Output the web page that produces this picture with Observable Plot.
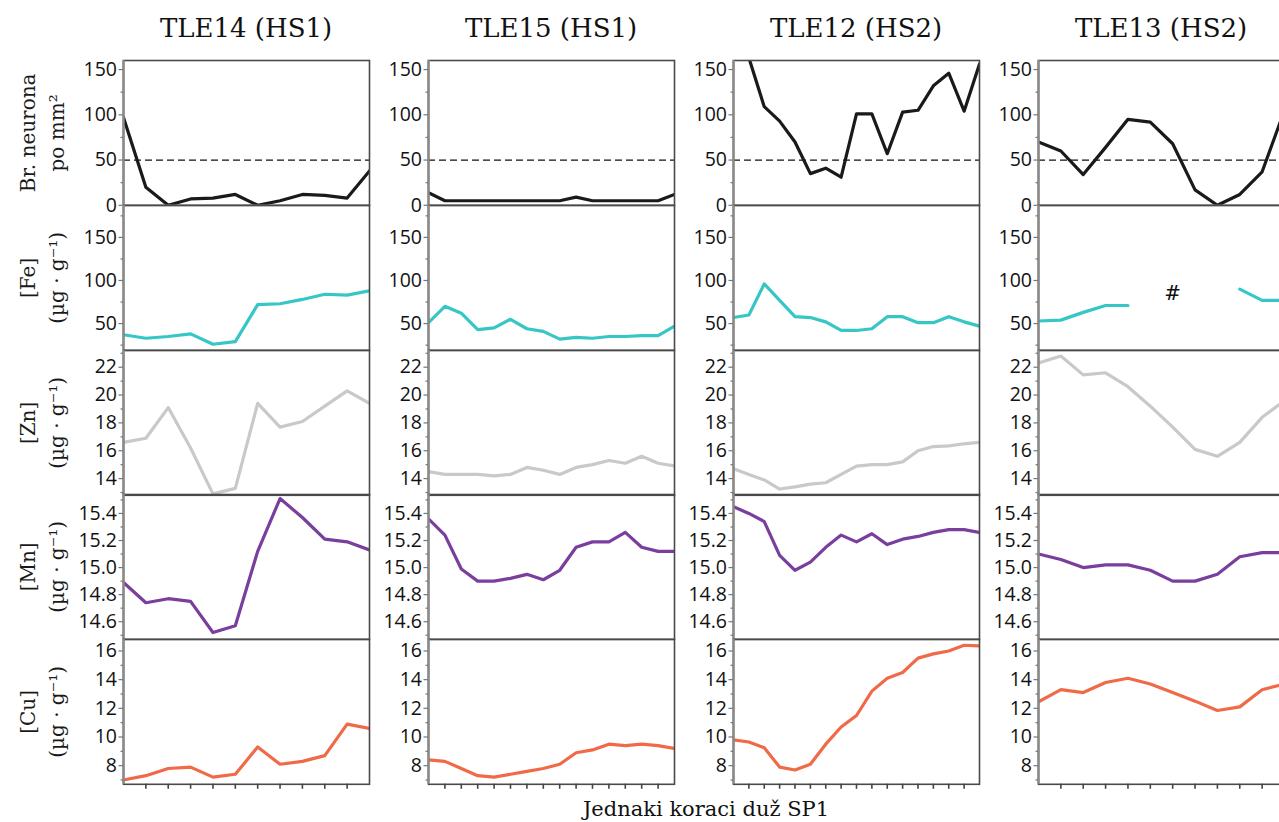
<!DOCTYPE html>
<html>
<head>
<meta charset="utf-8">
<script src="https://cdn.jsdelivr.net/npm/d3@7"></script>
<script src="https://cdn.jsdelivr.net/npm/@observablehq/plot@0.6"></script>
<style>
  html, body { margin: 0; padding: 0; background: #fff; overflow: hidden; }
  #chart { position: relative; width: 1279px; height: 822px; overflow: hidden; }
  #chart svg { position: absolute; }
  .title { position: absolute; top: 15px; font-family: "DejaVu Serif", serif; font-size: 26px; line-height: 26px; color: #111; transform: translateX(-50%); white-space: nowrap; }
  .xlabel { position: absolute; top: 799px; left: 706px; font-family: "DejaVu Serif", serif; font-size: 21px; line-height: 21px; color: #111; transform: translateX(-50%); white-space: nowrap; }
</style>
</head>
<body>
<div id="chart"></div>
<script>
// ---------- data ----------
const columnTitles = ["TLE14 (HS1)", "TLE15 (HS1)", "TLE12 (HS2)", "TLE13 (HS2)"];
const rowLabels = ["Br. neurona\npo mm²", "[Fe]\n(µg · g⁻¹)", "[Zn]\n(µg · g⁻¹)", "[Mn]\n(µg · g⁻¹)", "[Cu]\n(µg · g⁻¹)"];
const xLabel = "Jednaki koraci duž SP1";
const neuronThreshold = [50];

const tle14Neurons = [97, 20, 0, 7, 8, 12, 0, 5, 12, 11, 8, 38];
const tle14Fe = [37, 33, 35, 38, 26, 29, 72, 73, 78, 84, 83, 88];
const tle14Zn = [16.6, 16.9, 19.1, 16.2, 12.9, 13.3, 19.4, 17.7, 18.1, 19.2, 20.3, 19.4];
const tle14Mn = [14.89, 14.74, 14.77, 14.75, 14.52, 14.57, 15.12, 15.51, 15.37, 15.21, 15.19, 15.13];
const tle14Cu = [7.0, 7.3, 7.8, 7.9, 7.2, 7.4, 9.3, 8.1, 8.3, 8.7, 10.9, 10.6];

const tle15Neurons = [14, 5, 5, 5, 5, 5, 5, 5, 5, 9, 5, 5, 5, 5, 5, 12];
const tle15Fe = [51, 70, 62, 43, 45, 55, 44, 41, 32, 34, 33, 35, 35, 36, 36, 47];
const tle15Zn = [14.5, 14.3, 14.3, 14.3, 14.2, 14.3, 14.8, 14.6, 14.3, 14.8, 15.0, 15.3, 15.1, 15.6, 15.1, 14.9];
const tle15Mn = [15.36, 15.24, 14.99, 14.9, 14.9, 14.92, 14.95, 14.91, 14.98, 15.15, 15.19, 15.19, 15.26, 15.15, 15.12, 15.12];
const tle15Cu = [8.4, 8.3, 7.8, 7.3, 7.2, 7.4, 7.6, 7.8, 8.1, 8.9, 9.1, 9.5, 9.4, 9.5, 9.4, 9.2];

const tle12Neurons = [210, 163, 109, 93, 70, 35, 41, 31, 101, 101, 57, 103, 105, 132, 146, 104, 156];
const tle12Fe = [57, 60, 96, 77, 58, 57, 52, 42, 42, 44, 58, 58, 51, 51, 58, 52, 47];
const tle12Zn = [14.7, 14.3, 13.9, 13.25, 13.4, 13.6, 13.7, 14.3, 14.9, 15.0, 15.0, 15.2, 16.0, 16.3, 16.35, 16.5, 16.6];
const tle12Mn = [15.45, 15.40, 15.34, 15.09, 14.98, 15.04, 15.15, 15.24, 15.19, 15.25, 15.17, 15.21, 15.23, 15.26, 15.28, 15.28, 15.26];
const tle12Cu = [9.8, 9.65, 9.25, 7.9, 7.7, 8.1, 9.5, 10.7, 11.5, 13.2, 14.1, 14.5, 15.5, 15.8, 16.0, 16.4, 16.35];

const tle13Neurons = [70, 60, 34, 64, 95, 92, 68, 17, 0, 12, 37, 105];
const tle13Fe = [53, 54, 63, 71, 71, null, null, null, null, 90, 77, 77];
const tle13Zn = [22.3, 22.8, 21.45, 21.6, 20.6, 19.2, 17.7, 16.1, 15.6, 16.6, 18.4, 19.6];
const tle13Mn = [15.1, 15.06, 15.0, 15.02, 15.02, 14.98, 14.9, 14.9, 14.95, 15.08, 15.11, 15.11];
const tle13Cu = [12.45, 13.3, 13.1, 13.8, 14.1, 13.7, 13.1, 12.5, 11.85, 12.1, 13.3, 13.7];

// missing-data marker in the TLE13 [Fe] panel
const tle13FeNote = [{i: 6, v: 85, label: "#"}];

// y scale domains and ticks per row
const rowDomains = [[0, 160], [19, 187], [12.8, 23.2], [14.47, 15.54], [6.7, 16.8]];
const rowMajorTicks = [[0, 50, 100, 150], [50, 100, 150], [14, 16, 18, 20, 22], [14.6, 14.8, 15.0, 15.2, 15.4], [8, 10, 12, 14, 16]];
const rowMinorTicks = [[25, 75, 125], [25, 75, 125, 175], [13, 15, 17, 19, 21, 23], [14.5, 14.7, 14.9, 15.1, 15.3, 15.5], [7, 9, 11, 13, 15]];
const rowColors = ["#1a1a1a", "#36c6c6", "#c9c9c9", "#7a3e9d", "#f06a48"];

const series = [
  [tle14Neurons, tle14Fe, tle14Zn, tle14Mn, tle14Cu],
  [tle15Neurons, tle15Fe, tle15Zn, tle15Mn, tle15Cu],
  [tle12Neurons, tle12Fe, tle12Zn, tle12Mn, tle12Cu],
  [tle13Neurons, tle13Fe, tle13Zn, tle13Mn, tle13Cu]
];

// ---------- layout ----------
const chart = document.getElementById("chart");
const innerW = 246, colPitch = 305, left0 = 123, top0 = 60, rowH = 144.8;

columnTitles.forEach((t, c) => {
  const d = document.createElement("div");
  d.className = "title";
  d.textContent = t;
  d.style.left = (left0 + c * colPitch + innerW / 2) + "px";
  chart.appendChild(d);
});

for (let c = 0; c < 4; c++) {
  for (let r = 0; r < 5; r++) {
    const vals = series[c][r];
    const n = vals.length;
    const data = vals.map((v, i) => ({i, v}));
    const mL = c === 0 ? 123 : 62, mR = 6, mT = 6, mB = r === 4 ? 10 : 6;
    const fmt = r === 3 ? d3.format(".1f") : d3.format("d");
    const marks = [];
    if (r === 0) {
      marks.push(Plot.ruleY(neuronThreshold, {stroke: "#111", strokeWidth: 1.3, strokeDasharray: "7,4"}));
    }
    marks.push(Plot.line(data, {x: "i", y: "v", stroke: rowColors[r], strokeWidth: 3.2, clip: true}));
    if (c === 3 && r === 1) {
      marks.push(Plot.text(tle13FeNote, {x: "i", y: "v", text: "label", fontFamily: "DejaVu Serif", fontSize: 20, fill: "#111"}));
    }
    marks.push(Plot.frame({stroke: "#4a4a4a", strokeWidth: 1.6}));
    marks.push(Plot.ruleX([0], {stroke: "#8a8a8a", strokeWidth: 2.4}));
    marks.push(Plot.axisY({ticks: rowMinorTicks[r], tickSize: 2.5, tickFormat: () => "", stroke: "#777", strokeWidth: 1.2, label: null}));
    marks.push(Plot.axisY({ticks: rowMajorTicks[r], tickSize: 4.5, tickPadding: 2, tickFormat: fmt, stroke: "#777", fill: "#111", strokeWidth: 1.2, fontSize: 19.5, label: null}));
    if (r === 4) {
      marks.push(Plot.axisX({ticks: d3.range(1, n - 1), tickSize: 5, tickFormat: () => "", stroke: "#444", strokeWidth: 1.6, label: null}));
    }
    if (c === 0) {
      marks.push(Plot.text([rowLabels[r]], {text: d => d, frameAnchor: "left", dx: -83, rotate: -90, textAnchor: "middle", lineAnchor: "middle", lineHeight: 1.45, fontFamily: "DejaVu Serif", fontSize: 20, fill: "#1a1a1a"}));
    }
    const svg = Plot.plot({
      width: mL + innerW + mR,
      height: mT + rowH + mB,
      marginLeft: mL, marginRight: mR, marginTop: mT, marginBottom: mB,
      x: {domain: [0, n - 1], axis: null, label: null},
      y: {domain: rowDomains[r], axis: null, label: null},
      style: {background: "transparent", overflow: "visible", maxWidth: "none", fontFamily: "'Open Sans', sans-serif", fontSize: "19px", color: "#222"},
      marks
    });
    svg.style.left = (left0 + c * colPitch - mL) + "px";
    svg.style.top = (top0 + r * rowH - mT) + "px";
    chart.appendChild(svg);
  }
}

const xl = document.createElement("div");
xl.className = "xlabel";
xl.textContent = xLabel;
chart.appendChild(xl);
</script>
</body>
</html>
